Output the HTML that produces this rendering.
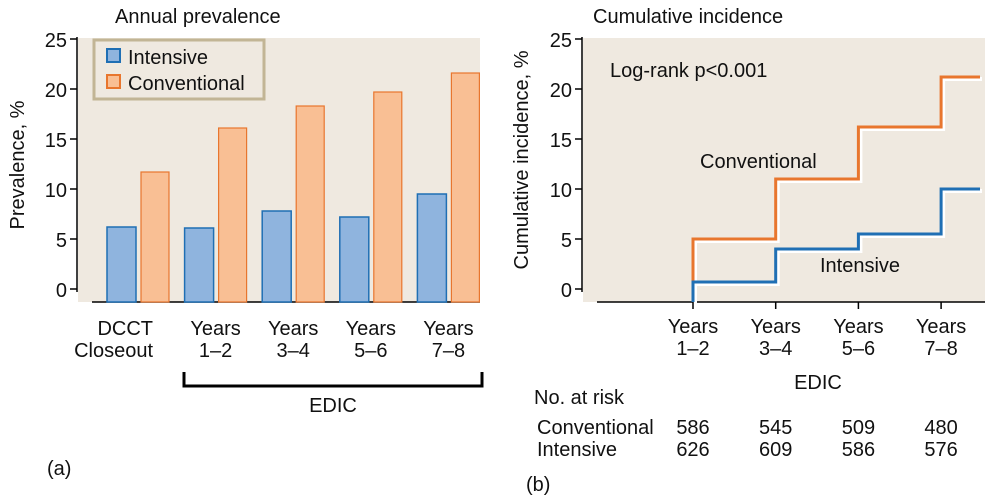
<!DOCTYPE html>
<html><head><meta charset="utf-8"><style>
body{margin:0;background:#fff;width:985px;height:497px;overflow:hidden}
svg{font-family:"Liberation Sans",Arial,sans-serif;fill:#111}
text{font-size:20px}
</style></head><body>
<svg id="fig" width="985" height="497" viewBox="0 0 985 497" xmlns="http://www.w3.org/2000/svg">
<g id="left">
<text x="115" y="23" font-size="18">Annual prevalence</text>
<rect x="78" y="38" width="402" height="264" fill="#efe9e0"/>
<line x1="77" y1="37" x2="77" y2="292" stroke="#000" stroke-width="1.5"/>
<g id="lyt"></g>
<line x1="92" y1="302" x2="480" y2="302" stroke="#000" stroke-width="1.5"/>
<text transform="translate(24,165) rotate(-90)" text-anchor="middle">Prevalence, %</text>
<g id="bars"></g>
<g id="lxl"></g>
<path d="M184 372 V386 H482 V372" fill="none" stroke="#000" stroke-width="3"/>
<text x="333" y="412" text-anchor="middle">EDIC</text>
<text x="47" y="475">(a)</text>
<g>
<rect x="94" y="40" width="170" height="59" fill="#efe9e0" stroke="#c2b595" stroke-width="3"/>
<rect x="107" y="49" width="13" height="13" fill="#8fb4de" stroke="#1f6fb4" stroke-width="2"/>
<text x="128" y="64" font-size="21">Intensive</text>
<rect x="107" y="75" width="13" height="13" fill="#f9bf94" stroke="#e8762e" stroke-width="2"/>
<text x="128" y="90" font-size="21">Conventional</text>
</g>
</g>
<g id="right">
<text x="593" y="23" font-size="18">Cumulative incidence</text>
<rect x="583" y="38" width="402" height="264" fill="#efe9e0"/>
<line x1="582" y1="37" x2="582" y2="292" stroke="#000" stroke-width="1.5"/>
<g id="ryt"></g>
<line x1="597" y1="302" x2="985" y2="302" stroke="#000" stroke-width="1.5"/>
<text transform="translate(528,160) rotate(-90)" text-anchor="middle">Cumulative incidence, %</text>
<text x="610" y="77">Log-rank p&lt;0.001</text>
<g id="steps"></g>
<text x="700" y="168">Conventional</text>
<text x="820" y="272">Intensive</text>
<g id="rxl"></g>
<text x="818" y="389" text-anchor="middle">EDIC</text>
<text x="534" y="404">No. at risk</text>
<text x="537" y="434">Conventional</text>
<text x="537" y="456">Intensive</text>
<g id="risk"></g>
<text x="526" y="491">(b)</text>
</g>
</svg>
<script>
const barCategories=[["DCCT","Closeout"],["Years","1–2"],["Years","3–4"],["Years","5–6"],["Years","7–8"]];
const intensivePrev=[6.2,6.1,7.8,7.2,9.5];
const conventionalPrev=[11.7,16.1,18.3,19.7,21.6];
const yTicks=[0,5,10,15,20,25];
const stepCategories=[["Years","1–2"],["Years","3–4"],["Years","5–6"],["Years","7–8"]];
const conventionalCum=[5.0,11.0,16.2,21.2];
const intensiveCum=[0.7,4.0,5.5,10.0];
const riskConventional=[586,545,509,480];
const riskIntensive=[626,609,586,576];
const NS="http://www.w3.org/2000/svg";
function mk(p,t,a){const e=document.createElementNS(NS,t);for(const k in a)e.setAttribute(k,a[k]);p.appendChild(e);return e;}
const y=v=>289-v*10;
const bx=i=>107+i*77.6;
const sx=i=>693+i*82.7;
function ticks(id,ax){const g=document.getElementById(id);yTicks.forEach(t=>{
const l=mk(g,'line',{x1:ax-7,x2:ax,y1:y(t),y2:y(t),stroke:'#000','stroke-width':1.5});


const tx=mk(g,'text',{x:ax-10,y:y(t)+8,'text-anchor':'end','font-size':21});tx.textContent=t;

});}
ticks('lyt',77);ticks('ryt',582);
const bg=document.getElementById('bars');
intensivePrev.forEach((v,i)=>{
const r=mk(bg,'rect',{x:bx(i),y:y(v),width:29,height:302-y(v),fill:'#8fb4de',stroke:'#1f6fb4','stroke-width':1.5});


const c=mk(bg,'rect',{x:bx(i)+34,y:y(conventionalPrev[i]),width:28,height:302-y(conventionalPrev[i]),fill:'#f9bf94',stroke:'#e8762e','stroke-width':1.2});

});
const lx=document.getElementById('lxl');
barCategories.forEach((c,i)=>{c.forEach((s,j)=>{
const t=mk(lx,'text',{x:i==0?bx(i)+46:bx(i)+31,y:335+j*22,'text-anchor':i==0?'end':'middle'});t.textContent=s;

});});
const sg=document.getElementById('steps');
function path(vals,start){let d=`M${sx(0)} ${y(start)} V${y(vals[0])}`;vals.forEach((v,i)=>{const xe=i<vals.length-1?sx(i+1):980;d+=` H${xe}`;if(i<vals.length-1)d+=` V${y(vals[i+1])}`;});return d;}
[[conventionalCum,0,'#e8762e','conventional-step-line'],[intensiveCum,-1.3,'#1f6fb4','intensive-step-line']].forEach(([v,s,col,n])=>{
const d=path(v,s);
const h=mk(sg,'path',{d:d,fill:'none',stroke:'#fff','stroke-width':4,transform:'translate(2,2)'});


const p=mk(sg,'path',{d:d,fill:'none',stroke:col,'stroke-width':3});

});
const rx=document.getElementById('rxl');
stepCategories.forEach((c,i)=>{
const tk=mk(rx,'line',{x1:sx(i),x2:sx(i),y1:302,y2:309,stroke:'#000','stroke-width':1.5});


c.forEach((s,j)=>{const t=mk(rx,'text',{x:sx(i),y:333+j*22,'text-anchor':'middle'});t.textContent=s;

});});
const rk=document.getElementById('risk');
[[riskConventional,434],[riskIntensive,456]].forEach(([arr,yy])=>arr.forEach((v,i)=>{
const t=mk(rk,'text',{x:sx(i),y:yy,'text-anchor':'middle'});t.textContent=v;

}));
</script>
</body></html>
